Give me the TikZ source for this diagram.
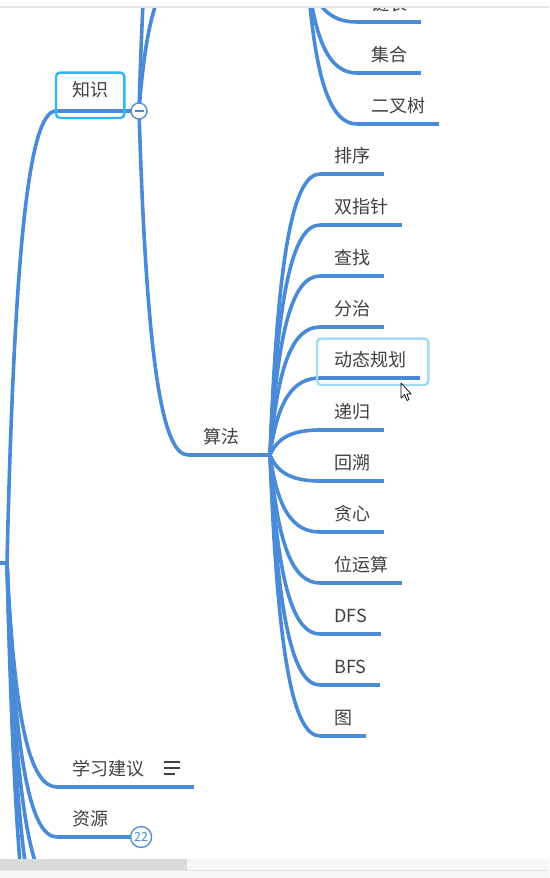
\documentclass[tikz,border=0pt]{standalone}
\usepackage{fontspec}
\newfontfamily\cjk{Noto Sans CJK SC}
\usetikzlibrary{calc}

\definecolor{linkblue}{RGB}{74,139,216}
\definecolor{topictext}{RGB}{64,64,64}
\definecolor{selcyan}{RGB}{45,184,242}
\definecolor{selpale}{RGB}{158,220,247}
\definecolor{barthumb}{RGB}{217,218,218}
\definecolor{bartrack}{RGB}{245,246,246}
\definecolor{edgegray}{RGB}{228,228,228}

\tikzset{
  branch/.style={draw=linkblue, line width=3.6pt,
    to path={let \p1=(\tikztostart), \p2=(\tikztotarget) in
      .. controls ({\x1+0.15*(\x2-\x1)},{\y2+0.3*(\y1-\y2)}) and ({\x1+0.45*(\x2-\x1)},\y2) .. (\tikztotarget)}},
  underline/.style={draw=linkblue, line width=3.6pt},
  topic/.style={anchor=south west, font=\cjk\fontsize{18}{20}\selectfont, text=topictext,
    inner xsep=14pt, inner ysep=7pt, text height=14pt, text depth=4pt},
  selbox/.style={rounded corners=4pt, line width=2.4pt},
}

\begin{document}
\begin{tikzpicture}[x=1pt, y=-1pt]
        \useasboundingbox[fill=white] (0,0) rectangle (549,878);
        \begin{scope}
        \clip (0,0) rectangle (549,878);

        % Junctions and hidden topics
        \coordinate (root-in) at (-20,563);
        \coordinate (root) at (7,563);
        \coordinate (knot) at (139,111);
        \coordinate (jichu) at (188,-250);
        \coordinate (shuju) at (188,-30);
        \coordinate (shuju-j) at (307,-30);
        \coordinate (suanfa-j) at (270,455);
        \coordinate (more-a) at (57,890);
        \coordinate (more-b) at (57,950);
        \coordinate (more-c) at (57,1020);

        % Topics
        \node[topic, inner xsep=16pt, inner ysep=10pt] (zhishi) at (56,111) {知识};
        \node[topic, inner xsep=15pt] (suanfa) at (188,455) {算法};
        \node[topic, inner xsep=15pt, text width=107pt, align=left] (xuexi) at (57,787) {学习建议};
        \node[topic, inner xsep=15pt] (ziyuan) at (57,837) {资源};

        \node[topic] (lianbiao) at (357,22) {链表};
        \node[topic] (jihe) at (357,73) {集合};
        \node[topic] (ercha) at (357,124) {二叉树};

        \node[topic] (paixu) at (320,174) {排序};
        \node[topic] (shuangzhi) at (320,225) {双指针};
        \node[topic] (chazhao) at (320,276) {查找};
        \node[topic] (fenzhi) at (320,327) {分治};
        \node[topic] (dongtai) at (320,378) {动态规划};
        \node[topic] (digui) at (320,430) {递归};
        \node[topic] (huisu) at (320,481) {回溯};
        \node[topic] (tanxin) at (320,532) {贪心};
        \node[topic] (weiyun) at (320,583) {位运算};
        \node[topic] (dfs) at (320,634) {DFS};
        \node[topic] (bfs) at (320,685) {BFS};
        \node[topic] (tu) at (320,736) {图};

        \node[circle, minimum size=21pt, inner sep=0pt, anchor=west]
              (count) at ([xshift=7pt]ziyuan.south east) {};

        % Main branches from the root
        \draw[underline] (root-in) -- (root);
        \draw[branch] (root) to (zhishi.south west);
        \draw[branch] (root) to (xuexi.south west);
        \draw[branch] (root) to (ziyuan.south west);
        \draw[branch] (root) to (more-a);
        \draw[branch] (root) to (more-b);
        \draw[branch] (root) to (more-c);

        % Knowledge subtree
        \draw[underline] (zhishi.south west) -- (knot);
        \draw[branch] (knot) to (jichu);
        \draw[branch] (knot) to (shuju);
        \draw[branch] (knot) to (suanfa.south west);
        \draw[underline] (shuju) -- (shuju-j);
        \draw[underline] (suanfa.south west) -- (suanfa-j);

        \foreach \t in {lianbiao,jihe,ercha}{
          \draw[branch] (shuju-j) to (\t.south west);
          \draw[underline] (\t.south west) -- (\t.south east);
        }
        \foreach \t in {paixu,shuangzhi,chazhao,fenzhi,dongtai,digui,huisu,tanxin,weiyun,dfs,bfs,tu}{
          \draw[branch] (suanfa-j) to (\t.south west);
          \draw[underline] (\t.south west) -- (\t.south east);
        }

        % Other underlines
        \draw[underline] (xuexi.south west) -- (xuexi.south east);
        \draw[underline] (ziyuan.south west) -- (count.west);

        % Note icon, collapse button and count badge
        \draw[topictext, line width=1.6pt] ([shift={(-30,-25)}]xuexi.south east) -- ++(16,0)
              ++(-16,6) -- ++(16,0) ++(-16,6) -- ++(11,0);
        \node[circle, draw=linkblue, line width=1.3pt, fill=white, minimum size=16pt, inner sep=0pt] (collapse) at (knot) {};
        \draw[linkblue, line width=1.3pt] ([xshift=-4.5pt]collapse.center) -- ([xshift=4.5pt]collapse.center);
        \node[circle, draw=linkblue, line width=1.3pt, fill=white, minimum size=21pt, inner sep=0pt,
              font=\cjk\fontsize{12.5}{13}\selectfont, text=linkblue] (badge) at (count.center) {22};

        % Selection frames
        \draw[selbox, selcyan] (zhishi.north west) rectangle ([yshift=-7pt]zhishi.south east);
        \draw[selbox, selpale] ([shift={(-3,-7)}]dongtai.north west) rectangle ([shift={(8,7)}]dongtai.south east);

        % Mouse pointer
        \draw[black, line width=0.7pt, fill=white, line join=round] (401,383) -- ++(0,15) -- ++(3.5,-3.5)
              -- ++(2.5,6) -- ++(2.2,-1) -- ++(-2.5,-5.5) -- ++(4.5,0) -- cycle;

        % Window edges
        \fill[white] (0,0) rectangle (549,7);
        \draw[edgegray, line width=1.5pt] (0,7) -- (549,7);
        \fill[bartrack] (0,859) rectangle (549,870);
        \fill[barthumb] (0,859) rectangle (187,870);
        \draw[edgegray, line width=1pt] (0,870.5) -- (549,870.5);
        \fill[bartrack] (0,871) rectangle (549,878);
        \end{scope}
\end{tikzpicture}
\end{document}
